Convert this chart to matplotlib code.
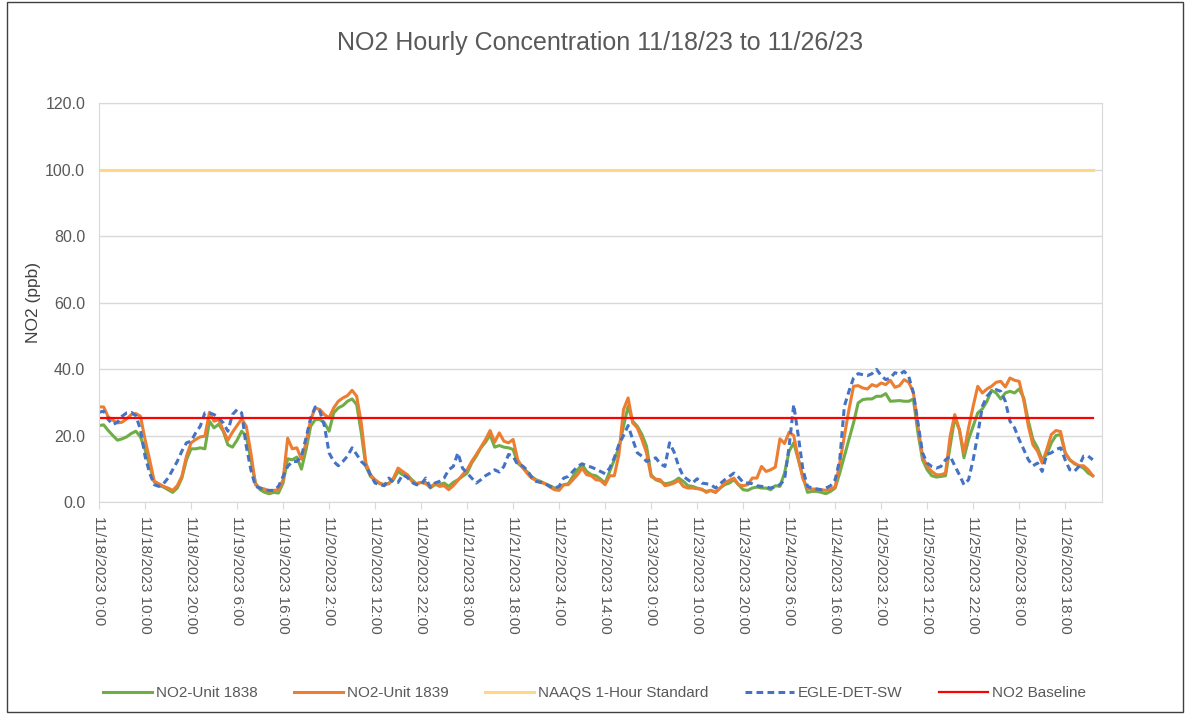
import matplotlib
matplotlib.use('Agg')
import matplotlib.pyplot as plt
import matplotlib.patches as patches
import numpy as np

# hourly NO2 readings (ppb), 11/18/2023 0:00 onward
unit_1838 = [
    23.0, 23.2, 21.5, 20.0, 18.6, 19.0, 19.6, 20.6, 21.3, 19.6, 15.8, 11.0, 6.0, 5.0, 4.5, 3.7,
    2.9, 4.2, 7.2, 12.7, 16.0, 16.0, 16.3, 16.0, 24.3, 22.3, 23.4, 21.3, 17.2, 16.5, 18.6, 21.3,
    19.8, 12.7, 5.7, 3.7, 2.9, 2.5, 2.9, 2.7, 5.7, 13.0, 12.7, 13.5, 9.9, 15.8, 22.8, 24.8,
    24.8, 23.8, 21.3, 26.8, 28.3, 29.0, 30.3, 31.0, 29.3, 20.8, 10.7, 7.7, 6.5, 5.5, 5.2, 5.7,
    6.7, 9.2, 8.2, 8.2, 6.7, 5.5, 5.9, 5.9, 4.2, 5.2, 5.2, 5.7, 4.7, 5.9, 6.7, 7.7,
    8.7, 11.7, 13.8, 16.3, 18.0, 20.2, 16.5, 17.0, 16.5, 16.3, 15.8, 11.7, 10.5, 9.2, 7.7, 6.7,
    6.2, 5.5, 4.9, 4.2, 4.2, 5.2, 5.5, 7.7, 9.7, 11.2, 9.2, 8.2, 7.9, 6.9, 5.7, 9.2,
    12.7, 16.3, 22.8, 28.8, 24.3, 22.8, 20.3, 16.8, 8.2, 6.7, 6.2, 5.5, 5.7, 6.2, 7.2, 6.2,
    4.9, 4.7, 4.2, 3.7, 3.2, 3.5, 2.9, 4.2, 5.2, 5.7, 6.7, 5.2, 3.7, 3.5, 4.2, 4.5,
    4.2, 4.2, 3.7, 4.9, 4.7, 8.7, 15.3, 17.8, 12.7, 7.7, 2.9, 3.2, 3.2, 2.9, 2.5, 3.2,
    4.2, 8.7, 13.8, 18.8, 23.8, 29.8, 30.8, 31.0, 31.0, 31.8, 31.8, 32.6, 30.3, 30.4, 30.5, 30.3,
    30.3, 31.0, 20.8, 12.7, 9.7, 7.9, 7.5, 7.7, 7.9, 16.8, 25.3, 21.8, 13.3, 18.8, 22.8, 26.8,
    28.0, 30.3, 33.6, 32.8, 31.0, 32.8, 33.3, 32.8, 34.0, 31.3, 24.3, 18.8, 16.3, 12.7, 14.3, 17.8,
    20.0, 20.3, 14.8, 12.7, 11.5, 10.9, 10.2, 8.7, 7.9,
]
unit_1839 = [
    28.6, 28.6, 25.6, 24.6, 23.8, 24.0, 25.0, 26.3, 26.6, 25.8, 18.8, 12.7, 6.2, 5.5, 4.7, 4.2,
    3.5, 4.9, 7.7, 13.8, 17.8, 18.8, 19.6, 19.8, 27.0, 24.3, 24.8, 21.5, 18.6, 21.0, 23.0, 25.0,
    22.8, 14.8, 5.2, 4.2, 3.9, 3.2, 3.5, 3.7, 6.7, 19.2, 16.0, 16.3, 12.9, 17.8, 24.8, 28.3,
    27.8, 26.3, 25.3, 28.3, 30.3, 31.3, 32.0, 33.6, 31.8, 23.8, 11.7, 8.2, 6.7, 5.7, 5.2, 5.5,
    7.2, 10.2, 9.2, 8.2, 6.2, 5.5, 5.9, 5.5, 4.5, 5.5, 4.7, 4.9, 3.7, 4.9, 6.5, 8.2,
    9.7, 12.2, 14.3, 16.5, 18.8, 21.5, 18.0, 20.8, 18.3, 17.8, 18.8, 12.7, 10.5, 8.7, 7.2, 6.5,
    5.9, 5.5, 4.5, 3.7, 3.5, 5.2, 5.2, 6.7, 8.2, 10.2, 8.2, 7.9, 6.7, 6.5, 5.2, 7.9,
    7.9, 14.3, 27.8, 31.3, 23.8, 22.3, 18.8, 14.8, 7.7, 6.9, 6.7, 4.9, 5.2, 5.7, 6.5, 4.7,
    4.2, 4.2, 4.0, 3.9, 2.9, 3.5, 2.9, 4.2, 5.7, 6.5, 7.2, 5.2, 4.9, 5.2, 7.2, 7.2,
    10.7, 9.2, 9.7, 10.5, 19.0, 17.6, 21.0, 20.0, 13.0, 7.0, 4.0, 3.9, 3.9, 3.7, 3.5, 3.9,
    4.5, 11.7, 19.8, 27.8, 34.8, 35.0, 34.3, 34.0, 35.3, 34.8, 35.8, 35.3, 36.6, 34.5, 35.0, 36.8,
    36.0, 33.0, 22.8, 13.7, 10.7, 9.2, 8.2, 8.2, 8.7, 19.8, 26.3, 21.8, 14.8, 22.3, 28.8, 34.8,
    32.8, 34.0, 34.8, 36.0, 36.3, 34.6, 37.3, 36.6, 36.3, 30.6, 22.8, 17.2, 15.3, 11.7, 15.8, 20.3,
    21.5, 21.2, 14.8, 12.7, 11.7, 10.9, 10.9, 9.7, 7.9,
]
egle_det_sw = [
    27.0, 27.3, 24.8, 23.3, 24.0, 25.8, 26.8, 27.0, 26.0, 21.8, 13.8, 8.7, 5.2, 4.7, 5.5, 7.2,
    9.7, 12.2, 15.3, 17.8, 18.3, 20.8, 22.8, 26.8, 26.8, 26.3, 25.3, 23.8, 21.3, 26.3, 27.8, 26.8,
    16.8, 9.7, 4.7, 4.2, 3.7, 3.5, 3.5, 4.7, 7.7, 10.7, 12.2, 12.2, 13.8, 19.3, 25.3, 28.6,
    27.3, 22.8, 14.8, 12.2, 10.9, 12.2, 13.8, 16.3, 14.3, 12.2, 10.9, 8.2, 5.7, 5.2, 4.9, 7.2,
    5.9, 5.9, 8.2, 7.4, 5.9, 5.2, 5.2, 7.2, 4.5, 5.7, 6.2, 7.2, 9.7, 10.7, 14.8, 10.2,
    8.7, 7.2, 5.7, 6.7, 7.9, 8.7, 9.7, 9.0, 10.7, 14.3, 13.8, 11.2, 10.9, 9.7, 7.5, 6.2,
    5.9, 5.5, 4.7, 4.2, 4.7, 7.2, 7.7, 9.2, 10.7, 11.5, 10.9, 10.5, 9.9, 9.2, 8.5, 10.2,
    13.3, 17.3, 20.0, 23.0, 18.8, 14.8, 13.8, 12.2, 12.7, 13.3, 11.5, 10.7, 17.8, 15.0, 10.7, 7.7,
    6.7, 5.7, 7.0, 5.7, 5.5, 5.2, 4.2, 5.5, 6.7, 7.7, 8.7, 7.5, 5.9, 5.7, 5.5, 4.9,
    4.7, 4.5, 4.2, 4.7, 5.2, 6.7, 16.8, 29.3, 19.8, 9.7, 4.7, 4.2, 3.9, 3.7, 4.2, 4.9,
    6.7, 12.7, 28.8, 33.3, 37.3, 38.6, 38.3, 38.0, 38.6, 39.9, 38.0, 36.8, 37.3, 38.9, 38.4, 39.3,
    37.8, 32.8, 23.8, 14.8, 11.7, 10.7, 10.2, 10.7, 12.7, 13.8, 10.9, 8.2, 5.2, 6.7, 12.7, 20.3,
    28.8, 31.8, 33.3, 33.8, 33.3, 30.3, 24.3, 22.3, 18.8, 15.8, 12.7, 10.9, 11.7, 9.2, 14.3, 14.8,
    15.8, 16.3, 12.7, 9.7, 9.2, 10.7, 13.8, 13.8, 12.7,
]
naaqs_standard = 100.0
no2_baseline = 25.3

tick_labels = [
    '11/18/2023 0:00', '11/18/2023 10:00', '11/18/2023 20:00', '11/19/2023 6:00',
    '11/19/2023 16:00', '11/20/2023 2:00', '11/20/2023 12:00', '11/20/2023 22:00',
    '11/21/2023 8:00', '11/21/2023 18:00', '11/22/2023 4:00', '11/22/2023 14:00',
    '11/23/2023 0:00', '11/23/2023 10:00', '11/23/2023 20:00', '11/24/2023 6:00',
    '11/24/2023 16:00', '11/25/2023 2:00', '11/25/2023 12:00', '11/25/2023 22:00',
    '11/26/2023 8:00', '11/26/2023 18:00',
]

plt.rcParams['font.family'] = ['Liberation Sans', 'DejaVu Sans']
txt = '#595959'
grid = '#d9d9d9'

hours = np.arange(len(unit_1838))

fig = plt.figure(figsize=(11.89, 7.14), dpi=100)
ax = fig.add_axes([0.0833, 0.2969, 0.9268 - 0.0833, 0.8557 - 0.2969])

ax.plot(hours, unit_1838, color='#70AD47', lw=2.2, label='NO2-Unit 1838')
ax.plot(hours, unit_1839, color='#ED7D31', lw=2.2, label='NO2-Unit 1839')
ax.plot(hours, np.full(len(hours), naaqs_standard), color='#FFD97F', lw=2.2,
        label='NAAQS 1-Hour Standard')
ax.plot(hours, egle_det_sw, color='#4472C4', lw=2.2, ls=(0, (2.2, 1.4)), label='EGLE-DET-SW')
ax.plot(hours, np.full(len(hours), no2_baseline), color='#FF0000', lw=1.6, label='NO2 Baseline')

ax.set_xlim(0, 218)
ax.set_ylim(0, 120)
ax.set_yticks(np.arange(0, 121, 20))
ax.set_yticklabels(['%.1f' % v for v in np.arange(0, 121, 20)])
ax.set_xticks(np.arange(0, 220, 10))
ax.set_xticklabels(tick_labels, rotation=270, va='top', ha='center')
ax.grid(axis='y', color=grid, lw=1)
ax.set_axisbelow(True)
for s in ax.spines.values():
    s.set_color(grid)
ax.tick_params(axis='y', length=0, pad=10, labelsize=11.5, labelcolor=txt)
ax.tick_params(axis='x', length=5, color=grid, pad=5, labelsize=11, labelcolor=txt)
ax.set_ylabel('NO2 (ppb)', fontsize=12.5, color='#404040', labelpad=3)
ax.set_title('NO2 Hourly Concentration 11/18/23 to 11/26/23', fontsize=18, color=txt, pad=38)

fig.legend(loc='lower center', bbox_to_anchor=(0.5, 0.0), ncol=5, frameon=False,
           fontsize=11, handlelength=3.2, handletextpad=0.3, columnspacing=2.35,
           labelcolor=txt)

fig.patches.append(patches.Rectangle((0.006, 0.003), 0.989, 0.994, transform=fig.transFigure,
                                     fill=False, edgecolor='#404040', lw=1))

fig.savefig('out.png', dpi=100)
